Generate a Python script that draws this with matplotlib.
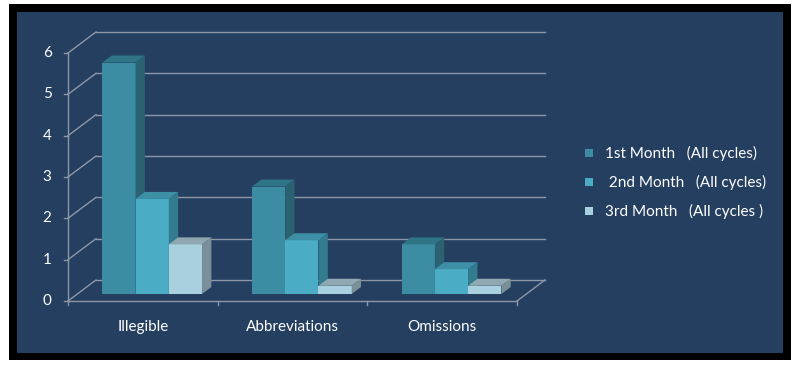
import matplotlib
matplotlib.use("Agg")
import matplotlib.pyplot as plt
from matplotlib.patches import Polygon, Rectangle
import numpy as np

categories = ["Illegible", "Abbreviations", "Omissions"]
series_names = ["1st Month   (All cycles)", " 2nd Month   (All cycles)", "3rd Month   (All cycles )"]
month1 = [5.6, 2.6, 1.2]
month2 = [2.3, 1.3, 0.6]
month3 = [1.2, 0.2, 0.2]
yticks = [0, 1, 2, 3, 4, 5, 6]

series = [month1, month2, month3]
front_cols = ["#3C8CA3", "#4BACC6", "#A9D0DE"]
top_cols = ["#2F7487", "#3D8FA6", "#8FA8B1"]
side_cols = ["#2A6272", "#337C8F", "#7A8F98"]

W, H = 795, 365
fig = plt.figure(figsize=(W / 100, H / 100), dpi=100)
fig.patch.set_facecolor("white")

# frame
fig.patches.append(Rectangle((9 / W, 5 / H), 782 / W, 356 / H, transform=fig.transFigure,
                             facecolor="black", edgecolor="none", zorder=-20))
fig.patches.append(Rectangle((17 / W, 12 / H), 766 / W, 341 / H, transform=fig.transFigure,
                             facecolor="#243F60", edgecolor="none", zorder=-10))

# data axes: front plane x 0..3 -> px 68..517; y 0 -> px 301, 6 -> px 53
ax = fig.add_axes([0, 0, 1, 1])
ax.set_facecolor("none")
ax.patch.set_alpha(0)
pxx = (517 - 68) / 3.0
pxy = (301 - 53) / 6.0
ax.set_xlim(-68 / pxx, (W - 68) / pxx)
ax.set_ylim(-(H - 301) / pxy, 301 / pxy)
ax.axis("off")

DX = 28 / pxx   # full depth offset in x units
DY = 21 / pxy   # full depth offset in y units
ymax = 6
gcol = "#8D97A8"
lw = 1.0

# back wall gridlines and left wall diagonals
for v in yticks:
    ax.plot([DX, 3 + DX], [v + DY, v + DY], color=gcol, lw=lw, zorder=1)
    ax.plot([0, DX], [v, v + DY], color=gcol, lw=lw, zorder=1)
    ax.plot([-0.025, 0], [v, v], color=gcol, lw=lw, zorder=1)
    ax.text(-0.11, v, str(v), color="white", fontsize=11, family="Lato",
            ha="right", va="center")
# left axis
ax.plot([0, 0], [0, ymax], color=gcol, lw=lw, zorder=1)
# floor
ax.plot([0, 3], [0, 0], color=gcol, lw=lw, zorder=5)
ax.plot([3, 3 + DX], [0, DY], color=gcol, lw=lw, zorder=5)
for t in range(4):
    ax.plot([t, t], [0, -0.1], color=gcol, lw=lw, zorder=5)

# bars
bw = 1 / 4.5
dx = DX / 3
dy = DY / 3
x = np.arange(len(categories))
for i, (vals, fc, tc, sc) in enumerate(zip(series, front_cols, top_cols, side_cols)):
    left = x + 1 / 6 + i * bw + dx
    ax.bar(left, vals, width=bw, bottom=dy, align="edge", color=fc, edgecolor="none",
           zorder=3 + i * 0.01, label=series_names[i])
    for l, v in zip(left, vals):
        top = v + dy
        ax.add_patch(Polygon([(l, top), (l + bw, top), (l + bw + dx, top + dy), (l + dx, top + dy)],
                             closed=True, facecolor=tc, edgecolor="none", zorder=3 + i * 0.01))
        ax.add_patch(Polygon([(l + bw, dy), (l + bw + dx, 2 * dy), (l + bw + dx, top + dy), (l + bw, top)],
                             closed=True, facecolor=sc, edgecolor="none", zorder=3 + i * 0.01))

for xi, c in zip(x, categories):
    ax.text(xi + 0.5, -0.62, c, color="white", fontsize=11, family="Lato",
            ha="center", va="center")

# legend
leg_y = [153, 182, 211]
for name, fc, py in zip(series_names, front_cols, leg_y):
    fig.patches.append(Rectangle((585 / W, (H - py - 4) / H), 8 / W, 8 / H,
                                 transform=fig.transFigure, facecolor=fc, edgecolor="none"))
    fig.text(605 / W, (H - py) / H, name, color="white", fontsize=11, family="Lato",
             ha="left", va="center")

fig.savefig("out.png", dpi=100, facecolor=fig.get_facecolor())
